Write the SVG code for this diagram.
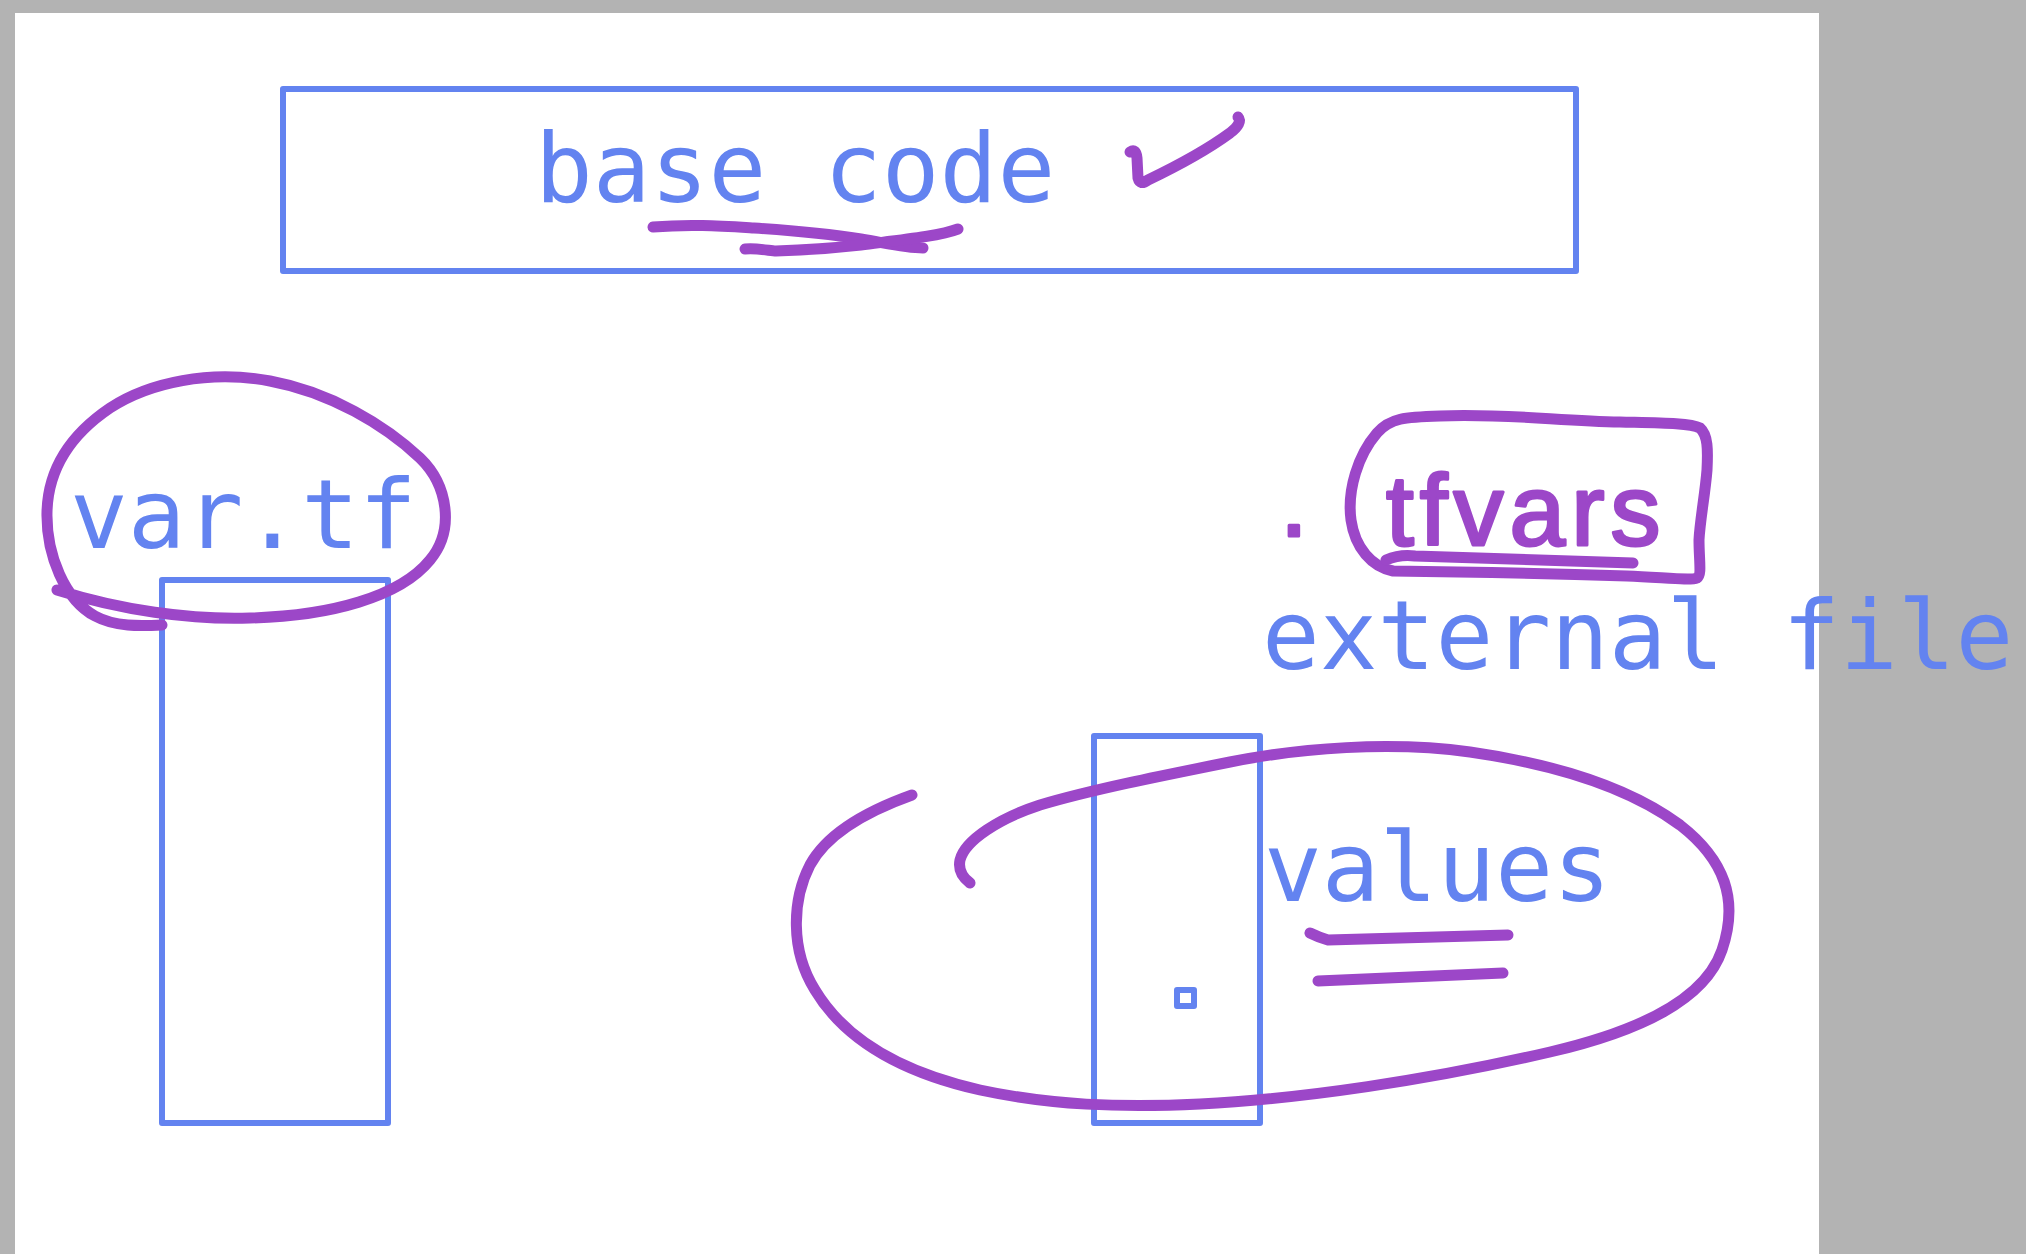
<svg xmlns="http://www.w3.org/2000/svg" width="2026" height="1254" viewBox="0 0 2026 1254">
<style>
.box{fill:none;stroke:#6383f0;stroke-width:6;stroke-linejoin:round}
.ink{fill:none;stroke:#9c47c8;stroke-width:11;stroke-linecap:round;stroke-linejoin:round}
.lbl{font-family:"DejaVu Sans Mono","Liberation Mono",monospace;font-size:96px;fill:#6383f0}
.hand{font-family:"Liberation Sans",Arial,sans-serif;font-size:100px;fill:#9c47c8;stroke:#9c47c8;stroke-width:3;stroke-linejoin:round;letter-spacing:6px}
</style>
<rect x="0" y="0" width="2026" height="1254" fill="#b3b3b3"/>
<rect x="15" y="13" width="1804" height="1241" fill="#ffffff"/>

<g id="base-code">
<rect class="box" x="283" y="89" width="1293" height="182"/>
<text class="lbl" x="535" y="202">base code</text>
</g>

<g id="var-tf">
<rect class="box" x="162" y="580" width="226" height="543"/>
<text class="lbl" x="70" y="548">var.tf</text>
</g>

<g id="tfvars">
<text class="hand"><tspan x="1280" y="536">.</tspan><tspan x="1386" y="545">tfvars</tspan></text>
</g>

<g id="external-file">
<text class="lbl" x="1262" y="669">external file</text>
</g>

<g id="values">
<rect class="box" x="1094" y="736" width="166" height="387"/>
<rect class="box" x="1177" y="990" width="17" height="16"/>
<text class="lbl" x="1264" y="901">values</text>
</g>

<g id="connectors">
<path class="ink" d="M1130,152 Q1136,148 1137,158 L1138,178 Q1140,186 1148,180 Q1200,155 1230,133 Q1243,123 1238,117"/>
<path class="ink" d="M653,227 C690,224 720,226 754,228 C800,231 830,234 861,239 C890,244 905,248 923,248"/>
<path class="ink" d="M745,249 C760,248 770,251 776,251 C810,250 835,248 861,245 C900,240 940,236 958,229"/>
<path class="ink" d="M57,590 C120,610 190,620 250,618 C330,616 400,597 430,560 C455,530 448,485 420,458 C385,425 330,392 270,381 C210,370 150,382 110,408 C70,435 48,470 47,512 C46,555 65,600 95,616 C115,627 140,626 162,625"/>
<path class="ink" d="M1393,571 C1372,567 1355,548 1351,520 C1347,490 1358,455 1377,433 C1390,418 1405,417 1440,416 C1500,413 1560,421 1620,422 C1660,423 1690,423 1700,428 C1708,435 1708,450 1707,470 C1705,495 1700,520 1699,540 C1699,560 1702,575 1697,578 C1690,581 1660,577 1627,576 C1560,574 1480,572 1393,571"/>
<path class="ink" d="M1386,560 Q1400,554 1415,556 L1633,563"/>
<path class="ink" d="M912,795 C870,810 828,832 810,865 C792,900 790,950 815,990 C845,1040 900,1072 980,1090 C1050,1105 1120,1108 1200,1104 C1300,1099 1430,1080 1550,1052 C1640,1031 1705,1000 1722,950 C1739,900 1725,860 1680,825 C1630,788 1560,765 1470,752 C1390,741 1300,748 1230,762 C1160,776 1090,790 1040,805 C1000,818 965,840 960,860 C958,870 962,877 970,883"/>
<path class="ink" d="M1310,933 Q1318,937 1328,940 L1508,935"/>
<path class="ink" d="M1318,981 L1503,973"/>
</g>
</svg>
